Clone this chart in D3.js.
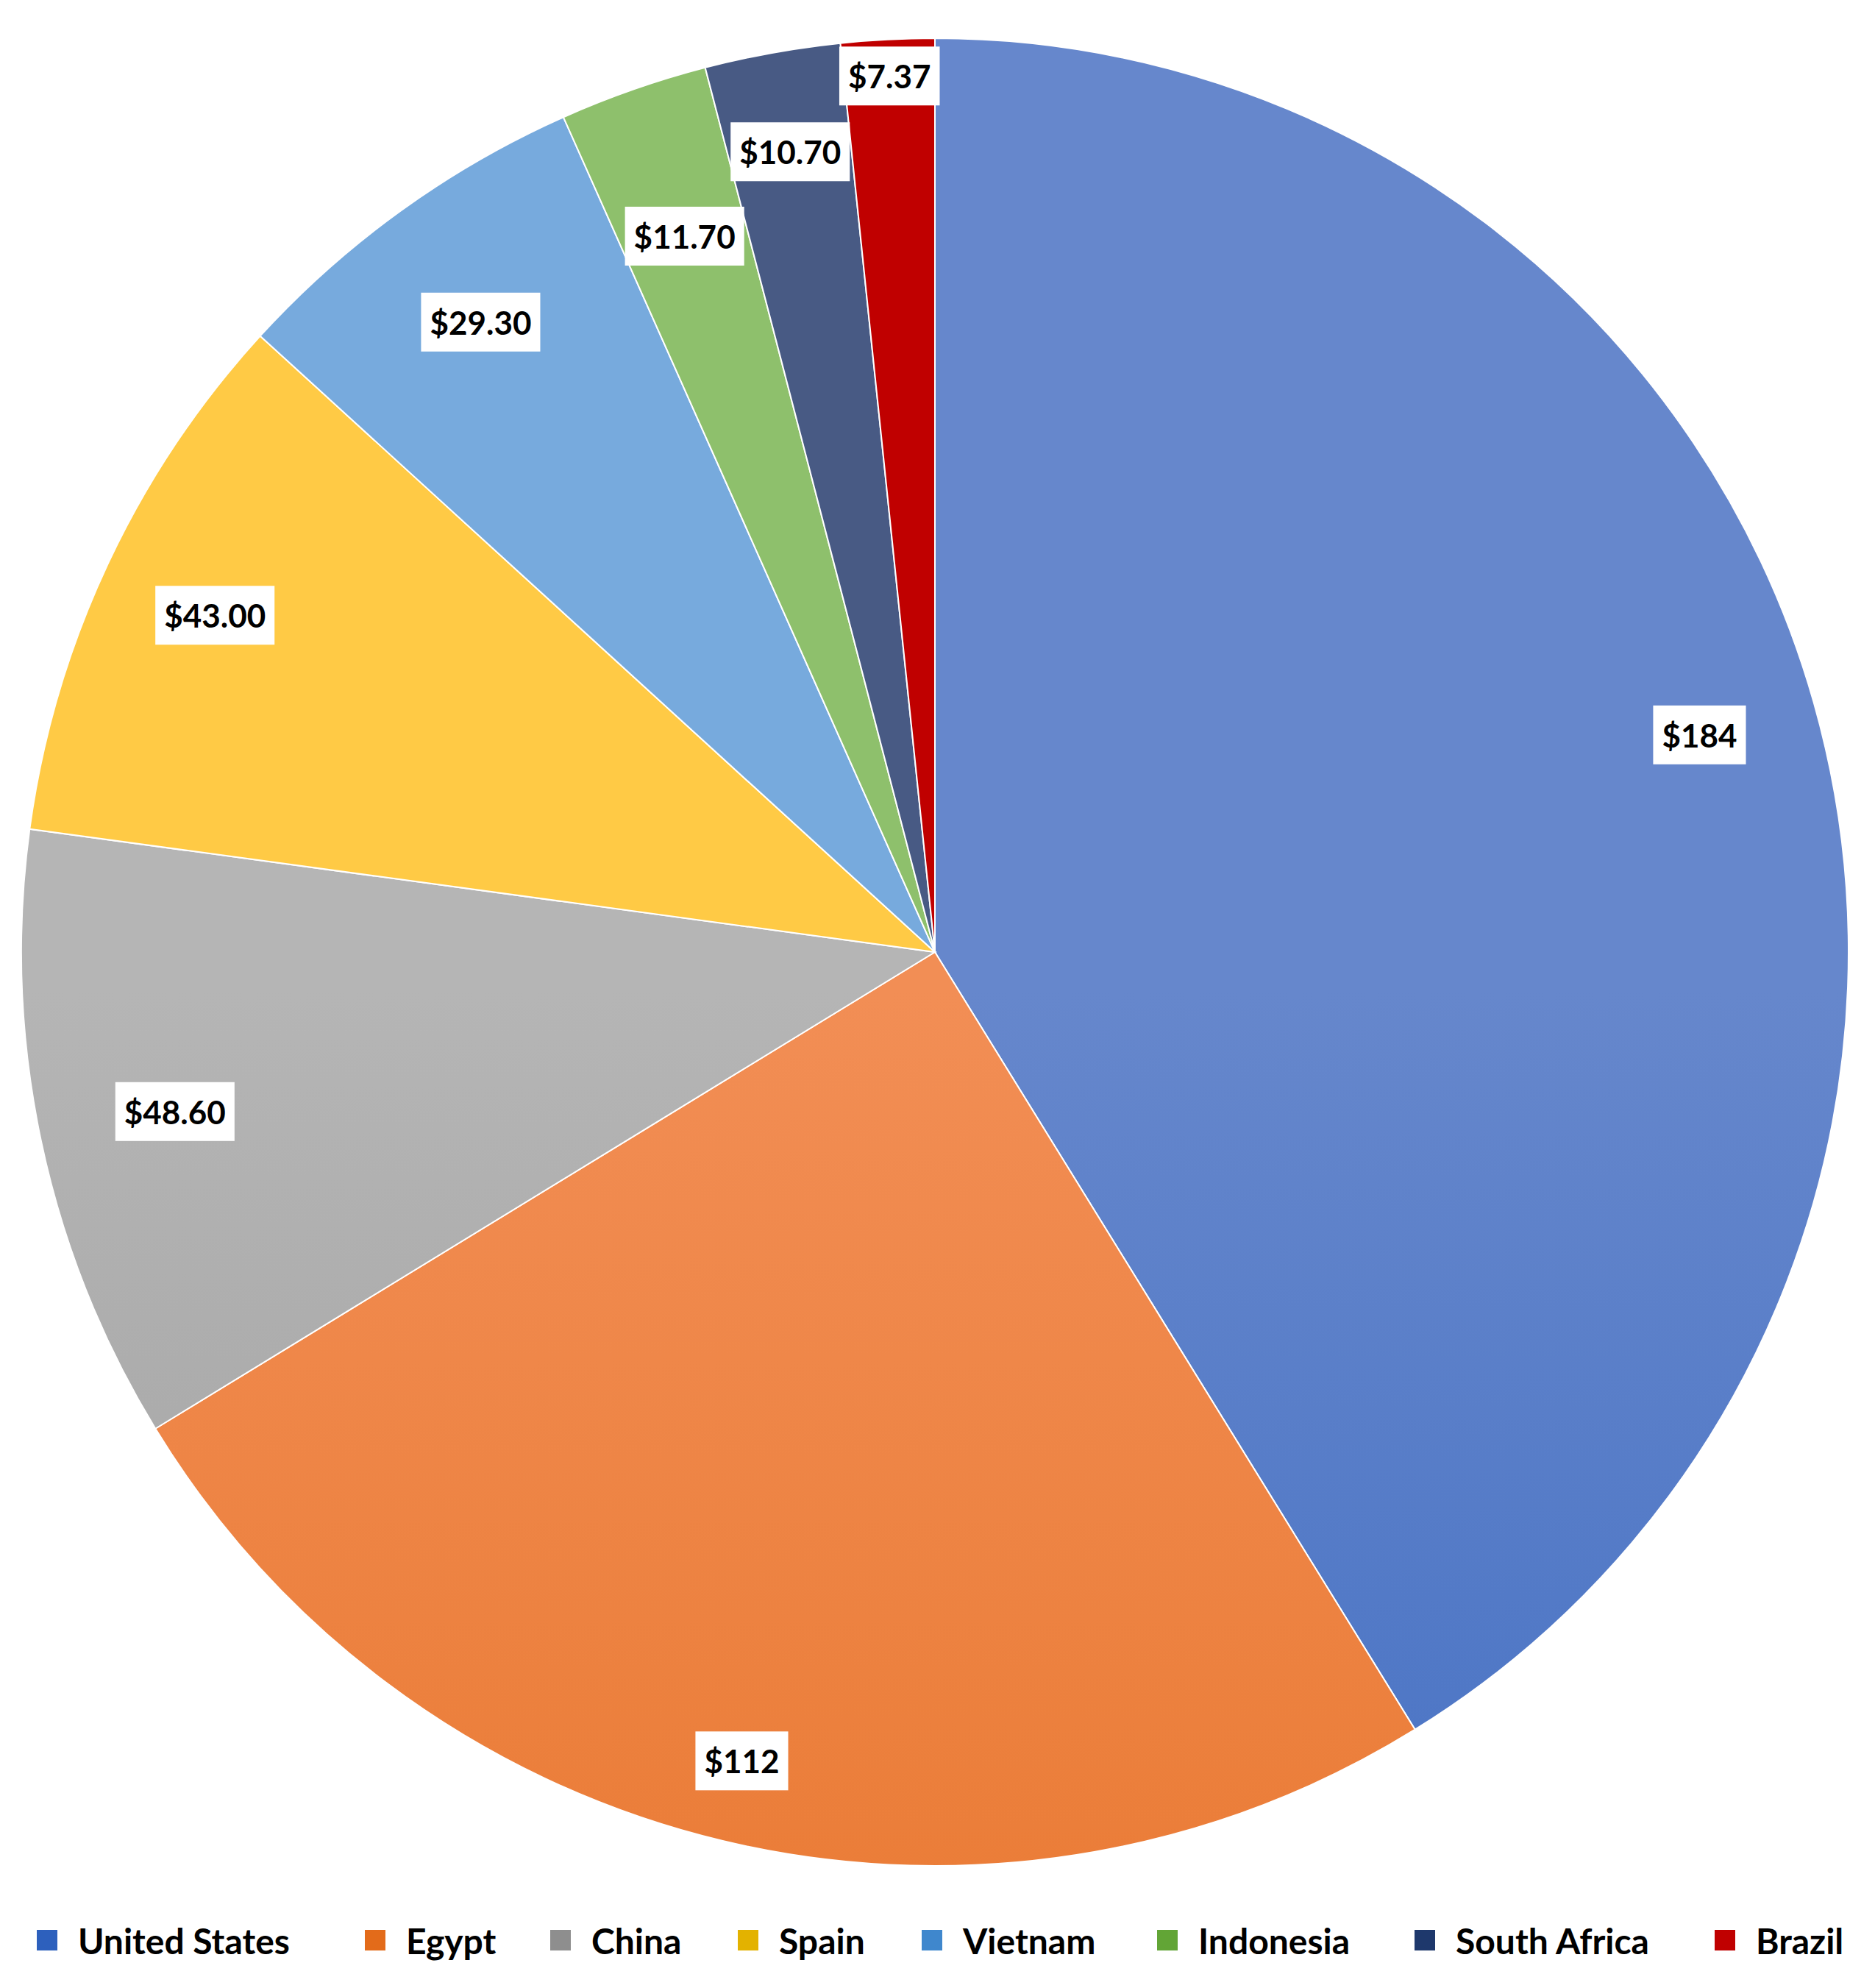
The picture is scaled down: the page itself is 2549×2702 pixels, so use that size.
<!DOCTYPE html>
<html><head><meta charset="utf-8">
<script src="https://cdn.jsdelivr.net/npm/d3@7"></script>
<style>body{margin:0;background:#fff}</style>
</head><body>
<svg id="chart" width="2549" height="2702"></svg>
<script>
// data
var countries = ["United States", "Egypt", "China", "Spain", "Vietnam", "Indonesia", "South Africa", "Brazil"];
var values = [184, 112, 48.6, 43, 29.3, 11.7, 10.7, 7.37];
var labels = ["$184", "$112", "$48.60", "$43.00", "$29.30", "$11.70", "$10.70", "$7.37"];

// top / bottom gradient colours per slice
var topColors = ["#6687cc", "#f28e55", "#b5b5b5", "#ffca45", "#77aadd", "#8ec06c", "#485a84", "#c00000"];
var botColors = ["#2d60bd", "#e36b1a", "#8e8e8e", "#e3b200", "#3f87cd", "#62a536", "#1e386c", "#c00000"];
var labelR = [0.87, 0.91, 0.85, 0.87, 0.85, 0.83, 0.89, 0.96];

var svg = d3.select("#chart");
var cx = 1271, cy = 1294, r = 1242;

var defs = svg.append("defs");
countries.forEach(function (c, i) {
  var g = defs.append("linearGradient").attr("id", "g" + i)
    .attr("gradientUnits", "userSpaceOnUse")
    .attr("x1", 0).attr("y1", cy - r).attr("x2", 0).attr("y2", cy + r);
  g.append("stop").attr("offset", 0).attr("stop-color", topColors[i]);
  g.append("stop").attr("offset", 1).attr("stop-color", botColors[i]);
});

var pie = d3.pie().sort(null).value(function (d) { return d; });
var arcs = pie(values);
var arc = d3.arc().innerRadius(0).outerRadius(r);

var root = svg.append("g");
root.selectAll("path.slice").data(arcs).enter().append("path")
  .attr("class", "slice")
  .attr("transform", "translate(" + cx + "," + cy + ")")
  .attr("d", arc)
  .attr("fill", function (d, i) { return "url(#g" + i + ")"; })
  .attr("stroke", "#fff").attr("stroke-width", 2);

var lab = svg.append("g");
arcs.forEach(function (d, i) {
  var a = (d.startAngle + d.endAngle) / 2;
  var x = cx + Math.sin(a) * r * labelR[i];
  var y = cy - Math.cos(a) * r * labelR[i];
  var t = lab.append("text").attr("x", x).attr("y", y)
    .attr("text-anchor", "middle").attr("dominant-baseline", "central")
    .attr("font-family", "Lato, 'Open Sans', sans-serif").attr("font-weight", "bold")
    .attr("font-size", 44).attr("fill", "#000").text(labels[i]);
  var bb = t.node().getBBox();
  lab.insert("rect", "text").attr("x", bb.x - 12).attr("y", y - 40)
    .attr("width", bb.width + 24).attr("height", 80).attr("fill", "#fff");
});

// legend
var leg = svg.append("g");
var lx = [50, 496, 748, 1003, 1253, 1573, 1923, 2331];
countries.forEach(function (c, i) {
  var g = leg.append("g").attr("transform", "translate(" + lx[i] + ",2637)");
  g.append("rect").attr("x", 0).attr("y", -14).attr("width", 28).attr("height", 28)
    .attr("fill", "url(#g" + i + ")").attr("fill", botColors[i]);
  g.append("text").attr("x", 56).attr("y", 0).attr("dominant-baseline", "central")
    .attr("font-family", "Lato, 'Open Sans', sans-serif").attr("font-weight", "bold")
    .attr("font-size", 48).attr("fill", "#000").text(c);
});
</script>
</body></html>
